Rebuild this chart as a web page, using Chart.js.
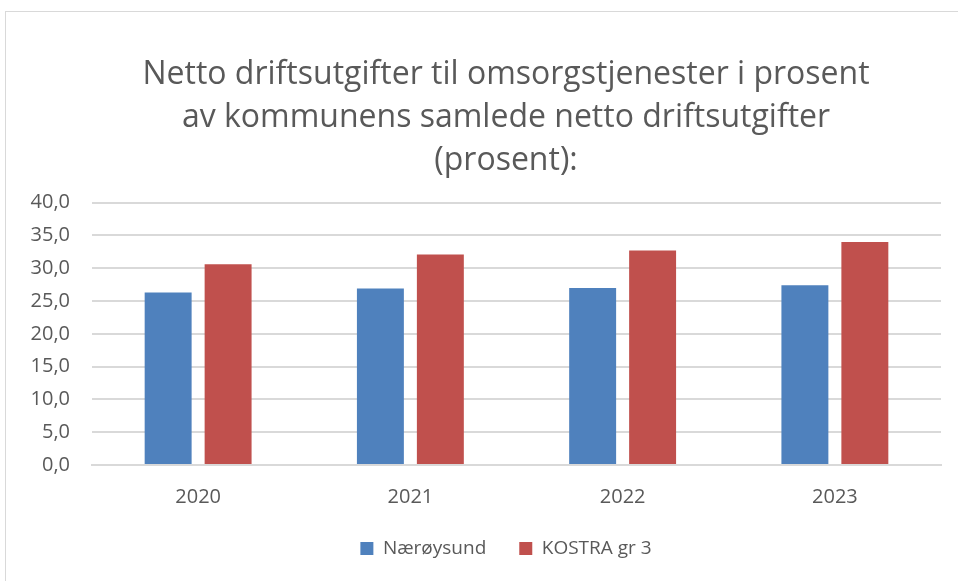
<!DOCTYPE html>
<html>
<head>
<meta charset="utf-8">
<script src="https://cdn.jsdelivr.net/npm/chart.js@4/dist/chart.umd.min.js"></script>
<style>
  body { margin: 0; background: #fff; }
  #wrap { position: relative; width: 958px; height: 581px; overflow: hidden; }
  #frame { position: absolute; left: 5px; top: 11px; width: 1000px; height: 700px; border: 1px solid #d9d9d9; }
  #chart { position: absolute; left: 0; top: 0; }
</style>
</head>
<body>
<div id="wrap">
  <div id="frame"></div>
  <canvas id="chart" width="1012" height="590"></canvas>
</div>
<script>
var years = ["2020", "2021", "2022", "2023"];
var naeroysund = [26.3, 26.9, 27.0, 27.4];
var kostra = [30.6, 32.1, 32.7, 34.0];
var seriesNames = ["Nærøysund", "KOSTRA gr 3"];
var textColor = "#595959";
var fontFamily = "'Open Sans', 'Noto Sans', sans-serif";

// the original chart is cropped on the right, so the canvas is bigger than the window
// and title + legend are centred on the whole canvas, not only the padded box
var centreOnCanvas = {
    id: 'centreOnCanvas',
    afterLayout: function (chart) {
        [chart.titleBlock, chart.legend].forEach(function (box) {
            if (!box) return;
            box.left = 0;
            box.right = chart.width;
            box.width = chart.width;
        });
    }
};

var ctx = document.getElementById("chart").getContext("2d");
window.myBar = new Chart(ctx, {
    type: 'bar',
    data: {
        labels: years,
        datasets: [{
            label: seriesNames[0],
            data: naeroysund,
            backgroundColor: "#4f81bd"
        }, {
            label: seriesNames[1],
            data: kostra,
            backgroundColor: "#c0504d"
        }]
    },
    options: {
        responsive: false,
        animation: false,
        layout: { padding: { top: 54, right: 71, bottom: 22, left: 0 } },
        plugins: {
            title: {
                display: true,
                text: ["Netto driftsutgifter til omsorgstjenester i prosent",
                       "av kommunens samlede netto driftsutgifter",
                       "(prosent):"],
                color: textColor,
                font: { family: fontFamily, size: 32, weight: 'normal', lineHeight: 1.33 },
                padding: { top: 0, bottom: 21 }
            },
            legend: {
                position: 'bottom',
                labels: {
                    color: textColor,
                    font: { family: fontFamily, size: 19 },
                    boxWidth: 13,
                    boxHeight: 13,
                    padding: 33
                }
            },
            tooltip: { enabled: false }
        },
        scales: {
            x: {
                grid: { display: false },
                border: { color: "#d9d9d9", width: 2 },
                ticks: { color: textColor, font: { family: fontFamily, size: 20 }, padding: 12 },
                afterFit: function (scale) { scale.height = 41; }
            },
            y: {
                min: 0,
                max: 40,
                border: { display: false },
                grid: { color: "#d9d9d9", lineWidth: 2, drawTicks: false },
                ticks: {
                    stepSize: 5,
                    color: textColor,
                    font: { family: fontFamily, size: 20 },
                    padding: 22,
                    callback: function (v) { return v.toFixed(1).replace('.', ','); }
                },
                afterFit: function (scale) { scale.width = 92; }
            }
        },
        datasets: {
            bar: { categoryPercentage: 0.565, barPercentage: 0.783 }
        }
    },
    plugins: [centreOnCanvas]
});
</script>
</body>
</html>
